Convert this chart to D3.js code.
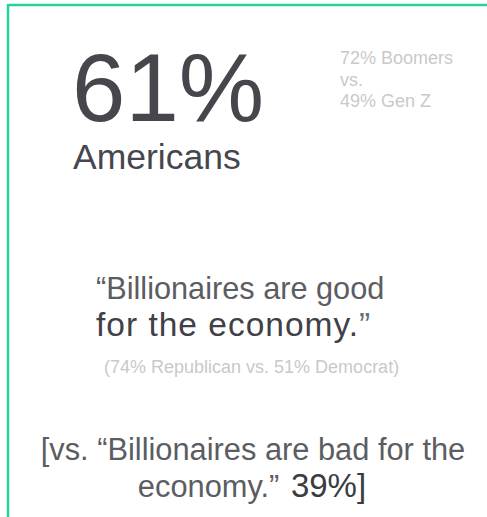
<!DOCTYPE html>
<html>
<head>
<meta charset="utf-8">
<script src="https://cdn.jsdelivr.net/npm/d3@7"></script>
<style>
  html, body { margin: 0; padding: 0; background: #ffffff; }
  svg { display: block; }
  text { font-family: "Liberation Sans", Arial, Helvetica, sans-serif; }
</style>
</head>
<body>
<svg id="chart" width="487" height="517"></svg>
<script>
// ---- data ----
const headlineValue = ["61%"];
const headlineLabel = ["Americans"];
const generationLines = ["72% Boomers", "vs.", "49% Gen Z"];
const quoteLine1 = ["\u201cBillionaires are good"];
const quoteLine2 = ["for the economy.", "\u201d"];
const partyLine = ["(74% Republican vs. 51% Democrat)"];
const contrastLine1 = ["[vs. \u201cBillionaires are bad for the"];
const contrastLine2 = ["economy.\u201d ", "39%]"];

// ---- drawing ----
const W = 487, H = 517;
const svg = d3.select("#chart");
const x = d3.scaleLinear().domain([0, 1]).range([0, W]);

const green = "#27d09e";
const dark = "#45474d";
const mid = "#5b5d62";
const light = "#c9c9c9";

// border (top + left)
svg.append("line").attr("x1", x(0.0154)).attr("x2", W).attr("y1", 5).attr("y2", 5)
  .attr("stroke", green).attr("stroke-width", 2.5);
svg.append("line").attr("x1", 8).attr("x2", 8).attr("y1", 4).attr("y2", H)
  .attr("stroke", green).attr("stroke-width", 2.5);

// big number
svg.selectAll("text.big").data(headlineValue).join("text").attr("class", "big")
  .attr("x", 72).attr("y", 121).attr("font-size", 96).attr("fill", dark).text(d => d);
svg.selectAll("text.lab").data(headlineLabel).join("text").attr("class", "lab")
  .attr("x", 73).attr("y", 169).attr("font-size", 35.5).attr("fill", dark).text(d => d);

// generations
svg.selectAll("text.gen").data(generationLines).join("text").attr("class", "gen")
  .attr("x", 340).attr("y", (d, i) => 64 + i * 21.5)
  .attr("font-size", 18).attr("fill", light).text(d => d);

// quote
svg.selectAll("text.q1").data(quoteLine1).join("text").attr("class", "q1")
  .attr("x", 96).attr("y", 299).attr("font-size", 30.7).attr("fill", mid).text(d => d);
const q2 = svg.append("text").attr("x", 96).attr("y", 336).attr("font-size", 33.5)
  .attr("letter-spacing", 1.0);
q2.selectAll("tspan").data(quoteLine2).join("tspan")
  .attr("fill", (d, i) => i === 0 ? "#3f4147" : "#6a6c70").text(d => d);

svg.selectAll("text.party").data(partyLine).join("text").attr("class", "party")
  .attr("x", 104).attr("y", 373).attr("font-size", 18).attr("fill", light).text(d => d);

// contrast
svg.selectAll("text.c1").data(contrastLine1).join("text").attr("class", "c1")
  .attr("x", 253).attr("y", 460).attr("text-anchor", "middle")
  .attr("font-size", 30.8).attr("fill", mid).text(d => d);
const c2 = svg.append("text").attr("x", 252).attr("y", 497).attr("text-anchor", "middle")
  .attr("font-size", 30.8);
c2.selectAll("tspan").data(contrastLine2).join("tspan")
  .attr("font-size", (d, i) => i === 0 ? 30.8 : 33)
  .attr("dx", (d, i) => i === 0 ? 0 : 3)
  .attr("fill", (d, i) => i === 0 ? mid : "#3a3c42").text(d => d);
</script>
</body>
</html>
